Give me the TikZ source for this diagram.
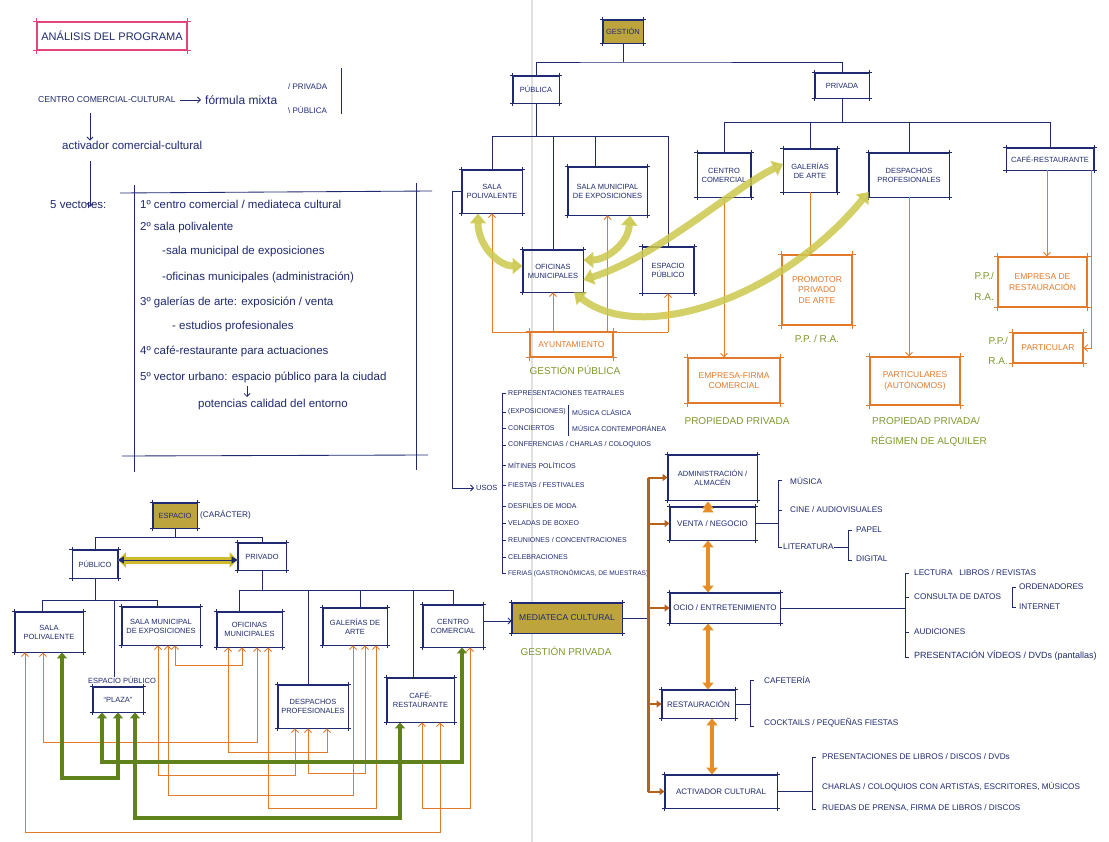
\documentclass[tikz,border=0pt]{standalone}
\usepackage{fontspec}
\setmainfont{Liberation Sans}
\usetikzlibrary{arrows.meta}
\definecolor{ink}{HTML}{1F2A70}
\definecolor{org}{HTML}{E27A2C}
\definecolor{brn}{HTML}{B5621C}
\definecolor{grn}{HTML}{7E9A2E}
\definecolor{olv}{HTML}{BDA43C}
\definecolor{lolv}{HTML}{CCC84E}
\definecolor{dgrn}{HTML}{5F821D}
\definecolor{pnk}{HTML}{E2467C}
\begin{document}
\begin{tikzpicture}[x=1pt,y=-1pt,
  skc/.style={append after command={
    (\tikzlastnode.north west) edge[draw=#1,line width=0.9pt,shorten <=-3pt,shorten >=-3pt] (\tikzlastnode.north east)
    (\tikzlastnode.south west) edge[draw=#1,line width=0.9pt,shorten <=-3pt,shorten >=-3pt] (\tikzlastnode.south east)
    (\tikzlastnode.north west) edge[draw=#1,line width=0.9pt,shorten <=-3pt,shorten >=-3pt] (\tikzlastnode.south west)
    (\tikzlastnode.north east) edge[draw=#1,line width=0.9pt,shorten <=-3pt,shorten >=-3pt] (\tikzlastnode.south east)}},
  bx/.style={draw=ink,line width=0.9pt,text=ink,align=center,inner sep=1pt,font=\fontsize{7.5}{9}\selectfont,skc=ink},
  obx/.style={draw=org,line width=1.1pt,text=org,align=center,inner sep=1pt,font=\fontsize{8.5}{10.5}\selectfont,skc=org},
  fbx/.style={bx,fill=olv},
  rbx/.style={bx,font=\fontsize{8}{9.5}\selectfont},
  lbl/.style={text=ink,anchor=west,inner sep=0pt,font=\fontsize{8.2}{9}\selectfont},
  ulbl/.style={lbl,font=\fontsize{7}{8}\selectfont},
  hw/.style={text=ink,anchor=west,inner sep=0pt,font=\fontsize{11.5}{12}\selectfont},
  gtx/.style={text=grn,inner sep=0pt,font=\fontsize{10}{11}\selectfont},
  ln/.style={draw=ink,line width=0.85pt},
  narr/.style={ln,-{Straight Barb[length=3pt,width=6pt]}},
  oln/.style={draw=org,line width=0.9pt},
  oarr/.style={oln,{Straight Barb[length=3.5pt,width=7pt]}-{Straight Barb[length=3.5pt,width=7pt]}},
  oup/.style={oln,-{Straight Barb[length=3.5pt,width=7pt]}},
  garr/.style={draw=dgrn,line width=3.8pt,{Triangle[length=6pt,width=10pt]}-{Triangle[length=6pt,width=10pt]}},
  yarr/.style={draw=lolv,line width=7pt,opacity=0.85,{Triangle[length=10pt,width=16pt]}-{Triangle[length=10pt,width=16pt]}},
  odd/.style={draw=org!85!yellow,line width=3.8pt,{Triangle[length=7pt,width=11pt]}-{Triangle[length=7pt,width=11pt]}},
  brl/.style={draw=brn,line width=3pt},
  barr/.style={draw=brn,line width=2pt,-{Triangle[length=5pt,width=7pt]}},
]
\useasboundingbox (0,0) rectangle (1109,842);
\fill[white] (0,0) rectangle (1109,842);
\draw[black!12,line width=1.2pt] (532,0) -- (532,842);

% ---------------- top-left
\node[draw=pnk,line width=1.1pt,text=ink,minimum width=150,minimum height=28,font=\fontsize{11}{12}\selectfont,skc=pnk] (ttl) at (112,36) {ANÁLISIS DEL PROGRAMA};
\node[lbl,font=\fontsize{8.6}{9}\selectfont] (cc) at (38,100) {CENTRO COMERCIAL-CULTURAL};
\node[hw,font=\fontsize{12}{13}\selectfont] (fm) at (205,100) {fórmula mixta};
\draw[narr] ([xshift=4]cc.east) -- ([xshift=-4]fm.west);
\node[lbl,font=\fontsize{8}{9}\selectfont] (fpr) at (288,87) {/ PRIVADA};
\node[lbl,font=\fontsize{8}{9}\selectfont] (fpu) at (288,110) {\textbackslash\ PÚBLICA};
\draw[ln] (341,68) -- (341,114);
\node[hw] (act) at (62,145) {activador comercial-cultural};
\node[hw] (vec) at (50,205) {5 vectores:};
\draw[narr] (cc.south -| 90,0) ++(0,10) -- (act.north -| 90,0);
\draw[narr] (act.south -| 90,0) ++(0,12) -- ([yshift=-6]vec.north -| 90,0);

\draw[ln] (120,193) -- (432,191);
\draw[ln] (122,456) -- (428,455);
\draw[ln] (134,185) -- (134,472);
\draw[ln] (416,183) -- (416,470);
\node[hw] at (140,204) {1º centro comercial / mediateca cultural};
\node[hw] at (140,228) {2º sala polivalente};
\node[hw] at (162,252) {-sala municipal de exposiciones};
\node[hw] at (162,277) {-oficinas municipales (administración)};
\node[hw] at (140,302) {3º galerías de arte: exposición / venta};
\node[hw] at (172,327) {- estudios profesionales};
\node[hw] at (140,351) {4º café-restaurante para actuaciones};
\node[hw] (v5) at (140,377) {5º vector urbano: espacio público para la ciudad};
\node[hw] (pot) at (198,405) {potencias calidad del entorno};
\draw[narr] (247,386) -- (247,397);

% ---------------- top tree
\node[fbx,minimum width=40,minimum height=23] (gest) at (623,31.5) {GESTIÓN};
\node[bx,minimum width=46,minimum height=27] (pub) at (536,89.5) {PÚBLICA};
\node[bx,minimum width=54,minimum height=25] (priv) at (842,85.5) {PRIVADA};
\node[bx,minimum width=60,minimum height=43] (tSP) at (492,191.5) {SALA\\POLIVALENTE};
\node[bx,minimum width=79,minimum height=48] (tSM) at (607.5,191) {SALA MUNICIPAL\\DE EXPOSICIONES};
\node[bx,minimum width=60,minimum height=42] (tOF) at (553,271) {OFICINAS\\MUNICIPALES};
\node[bx,minimum width=51,minimum height=46] (tEP) at (668,270) {ESPACIO\\PÚBLICO};
\node[obx,minimum width=83,minimum height=25] (tAY) at (571.5,344.5) {AYUNTAMIENTO};
\node[bx,minimum width=53,minimum height=44] (tCC) at (724,175) {CENTRO\\COMERCIAL};
\node[bx,minimum width=53,minimum height=43] (tGA) at (810,170.5) {GALERÍAS\\DE ARTE};
\node[bx,minimum width=80,minimum height=44] (tDP) at (909,175) {DESPACHOS\\PROFESIONALES};
\node[bx,minimum width=87,minimum height=22] (tCR) at (1050,159) {CAFÉ-RESTAURANTE};
\node[obx,minimum width=92,minimum height=45] (tEF) at (734,380.5) {EMPRESA-FIRMA\\COMERCIAL};
\node[obx,minimum width=70,minimum height=70] (tPR) at (817,290) {PROMOTOR\\PRIVADO\\DE ARTE};
\node[obx,minimum width=90,minimum height=48] (tPA) at (915,381) {PARTICULARES\\(AUTÓNOMOS)};
\node[obx,minimum width=89,minimum height=50] (tER) at (1042.5,282) {EMPRESA DE\\RESTAURACIÓN};
\node[obx,minimum width=70,minimum height=30] (tPT) at (1048,348) {PARTICULAR};

\draw[ln] (gest.south) -- (gest.south |- 0,62);
\draw[ln] (pub.north) |- (gest.south |- 0,62) -| (priv.north);
\draw[ln] (pub.south) -- (pub.south |- 0,136);
\draw[ln] (tSP.north) |- (tEP.north |- 0,136) -- (tEP.north);
\draw[ln] (tOF.north) -- (tOF.north |- 0,136);
\draw[ln] (tSM.north -| 595,0) -- (595,136);
\draw[ln] (priv.south) -- (priv.south |- 0,122);
\draw[ln] (tCC.north) |- (tCR.north |- 0,122) -- (tCR.north);
\draw[ln] (tGA.north) -- (tGA.north |- 0,122);
\draw[ln] (tDP.north) -- (tDP.north |- 0,122);

\draw[oln] (tSP.south |- 0,332) -- (tEP.south |- 0,332);
\draw[oup] (tSP.south |- 0,332) -- (tSP.south);
\draw[oup] (tOF.south |- 0,332) -- (tOF.south);
\draw[oup] (tSM.south |- 0,332) -- (tSM.south);
\draw[oup] (tEP.south |- 0,332) -- (tEP.south);
\draw[oup] (tCC.south) -- (tCC.south |- tEF.north);
\draw[oup] (tGA.south) -- (tGA.south |- tPR.north);
\draw[oup] (tDP.south) -- (tDP.south |- tPA.north);
\draw[oup] (tCR.south -| 1047,0) -- (tER.north -| 1047,0);
\draw[oup] (tCR.south -| 1091,0) |- (tPT.east);

\node[gtx] at (575,370) {GESTIÓN PÚBLICA};
\node[gtx] at (737,421) {PROPIEDAD PRIVADA};
\node[gtx] at (817,339) {P.P. / R.A.};
\node[gtx] at (926,421) {PROPIEDAD PRIVADA/};
\node[gtx] at (929,441) {RÉGIMEN DE ALQUILER};
\node[gtx,anchor=east] at (994,276) {P.P./};
\node[gtx,anchor=east] at (994,297) {R.A.};
\node[gtx,anchor=east] at (1008,341) {P.P./};
\node[gtx,anchor=east] at (1008,361) {R.A.};

\draw[yarr] (tSP.south -| 478,0) .. controls (478,245) and (498,266) .. (tOF.west |- 0,266);
\draw[yarr] (tSM.south -| 630,0) .. controls (628,245) and (605,260) .. (tOF.east |- 0,260);
\draw[yarr] (tOF.east |- 0,280) .. controls (660,255) and (730,190) .. (tGA.west |- 0,164);
\draw[yarr] (tOF.south -| 574,0) .. controls (640,345) and (780,300) .. (tDP.west |- 0,192);

% ---------------- usos
\node[lbl,font=\fontsize{7.5}{8}\selectfont] (usos) at (476,488) {USOS};
\draw[narr] (tSP.west) -- (452,191.5) -- (452,488) -- ([xshift=-2]usos.west);
\draw[ln] (502,393) -- (502,573);
\foreach \yy in {393,412,428,445,465,485,506,523,540,557,573} {\draw[ln] (502,\yy) -- (506,\yy);}
\node[ulbl] at (508,393) {REPRESENTACIONES TEATRALES};
\node[ulbl] at (508,412) {(EXPOSICIONES)};
\node[ulbl] at (508,428) {CONCIERTOS};
\draw[ln] (568,405) -- (568,436);
\node[ulbl] at (572,412) {MÚSICA CLÁSICA};
\node[ulbl] at (572,428) {MÚSICA CONTEMPORÁNEA};
\node[ulbl] at (508,445) {CONFERENCIAS / CHARLAS / COLOQUIOS};
\node[ulbl] at (508,465) {MÍTINES POLÍTICOS};
\node[ulbl] at (508,485) {FIESTAS / FESTIVALES};
\node[ulbl] at (508,506) {DESFILES DE MODA};
\node[ulbl] at (508,523) {VELADAS DE BOXEO};
\node[ulbl] at (508,540) {REUNIONES / CONCENTRACIONES};
\node[ulbl] at (508,557) {CELEBRACIONES};
\node[ulbl,font=\fontsize{6.6}{7}\selectfont] at (508,573) {FERIAS (GASTRONÓMICAS, DE MUESTRAS)};

% ---------------- bottom-left tree
\node[fbx,minimum width=44,minimum height=25] (bES) at (175,515.5) {ESPACIO};
\node[lbl] (car) at (200,515) {(CARÁCTER)};
\node[bx,minimum width=45,minimum height=28] (bPU) at (95,564) {PÚBLICO};
\node[bx,minimum width=48,minimum height=27] (bPV) at (262,556.5) {PRIVADO};
\node[bx,minimum width=68,minimum height=40] (bSP) at (49,632) {SALA\\POLIVALENTE};
\node[bx,minimum width=78,minimum height=38] (bSM) at (161,626) {SALA MUNICIPAL\\DE EXPOSICIONES};
\node[lbl,font=\fontsize{7.5}{8}\selectfont] (plL) at (88,680) {ESPACIO PÚBLICO};
\node[bx,minimum width=50,minimum height=25] (bPL) at (118,699.5) {“PLAZA”};
\node[bx,minimum width=65,minimum height=35] (bOF) at (249.5,629.5) {OFICINAS\\MUNICIPALES};
\node[bx,minimum width=64,minimum height=37] (bGA) at (355,626.5) {GALERÍAS DE\\ARTE};
\node[bx,minimum width=60,minimum height=42] (bCC) at (453,626) {CENTRO\\COMERCIAL};
\node[bx,minimum width=70,minimum height=43] (bDP) at (313,706.5) {DESPACHOS\\PROFESIONALES};
\node[bx,minimum width=67,minimum height=44] (bCF) at (420.5,700) {CAFÉ-\\RESTAURANTE};

\draw[ln] (bES.south) -- (bES.south |- 0,537);
\draw[ln] (bPU.north) |- (bPV.north |- 0,537) -- (bPV.north);
\draw[ln] (bPU.south) -- (bPU.south |- 0,600);
\draw[ln] (bSP.north -| 42,0) |- (157,600) -- (bSM.north -| 157,0);
\draw[ln] (114,600) -- (plL.north -| 114,0);
\draw[ln] (bPV.south) -- (bPV.south |- 0,590);
\draw[ln] (bOF.north -| 239,0) |- (453,590) -- (bCC.north);
\draw[ln] (308,590) -- (bDP.north -| 308,0);
\draw[ln] (360,590) -- (bGA.north -| 360,0);
\draw[ln] (413,590) -- (bCF.north -| 413,0);

\draw[draw=olv!75!yellow,line width=7pt,{Triangle[length=8pt,width=15pt]}-{Triangle[length=8pt,width=15pt]}] (bPU.east |- 0,560) -- (bPV.west |- 0,560);
\draw[ln,{Triangle[length=6pt,width=7pt]}-{Triangle[length=6pt,width=7pt]}] (bPU.east |- 0,560) -- (bPV.west |- 0,560);

\draw[oarr] (bSP.south -| 25,0) |- (440,832) -- (bCF.south -| 440,0);
\draw[oarr] (bSP.south -| 43,0) |- (257,742) -- (bOF.south -| 257,0);
\draw[oarr] (bSM.south -| 175,0) |- (242,665) -- (bOF.south -| 242,0);
\draw[oarr] (bSM.south -| 158,0) |- (295,775) -- (bDP.south -| 295,0);
\draw[oarr] (bSM.south -| 168,0) |- (353,795) -- (bGA.south -| 353,0);
\draw[oarr] (bOF.south -| 228,0) |- (327,752) -- (bDP.south -| 327,0);
\draw[oarr] (bOF.south -| 268,0) |- (376,808) -- (bGA.south -| 376,0);
\draw[oarr] (bDP.south -| 308,0) |- (365,773) -- (bGA.south -| 365,0);
\draw[oarr] (bCF.south -| 422,0) |- (470,808) -- (bCC.south -| 470,0);

\draw[garr] (bSP.south -| 62,0) |- (118,778) -- (bPL.south -| 118,0);
\draw[garr] (bPL.south -| 102,0) |- (462,762) -- (bCC.south -| 462,0);
\draw[garr] (bPL.south -| 135,0) |- (400,818) -- (bCF.south -| 400,0);

% ---------------- mediateca
\node[fbx,minimum width=110,minimum height=30,font=\fontsize{8.5}{9}\selectfont] (rMed) at (567,618) {MEDIATECA CULTURAL};
\node[gtx] at (566,651) {GESTIÓN PRIVADA};
\draw[narr] (bCC.east |- 0,621) -- (rMed.west |- 0,621);

\node[rbx,font=\fontsize{7.5}{9}\selectfont,minimum width=89,minimum height=45] (rAD) at (712.5,477.5) {ADMINISTRACIÓN /\\ALMACÉN};
\node[rbx,minimum width=85,minimum height=33] (rVE) at (712.5,523.5) {VENTA / NEGOCIO};
\node[rbx,minimum width=110,minimum height=30] (rOC) at (725,608) {OCIO / ENTRETENIMIENTO};
\node[rbx,minimum width=73,minimum height=28] (rRE) at (698.5,704) {RESTAURACIÓN};
\node[rbx,minimum width=112,minimum height=33] (rAC) at (721,791.5) {ACTIVADOR CULTURAL};

\draw[ln] (rMed.east) -- (rMed.east -| 648,0);
\draw[brl] (rAD.west -| 648,0) -- (rAC.west -| 648,0);
\draw[barr] (rAD.west -| 648,0) -- (rAD.west);
\draw[barr] (rVE.west -| 648,0) -- (rVE.west);
\draw[barr] (rOC.west -| 648,0) -- (rOC.west);
\draw[barr] (rRE.west -| 648,0) -- (rRE.west);
\draw[barr] (rAC.west -| 648,0) -- (rAC.west);

\draw[odd] ([yshift=-5]rAD.south -| 708,0) -- ([yshift=5]rVE.north -| 708,0);
\draw[odd] (rVE.south -| 708,0) -- (rOC.north -| 708,0);
\draw[odd] (rOC.south -| 708,0) -- (rRE.north -| 708,0);
\draw[odd] (rRE.south -| 712,0) -- (rAC.north -| 712,0);

% venta list
\draw[ln] (rVE.east) -- (rVE.east -| 778,0);
\draw[ln] (782,480) -- (778,480) -- (778,547) -- (782,547);
\draw[ln] (778,510) -- (782,510);
\node[lbl] at (790,481) {MÚSICA};
\node[lbl] at (790,510) {CINE / AUDIOVISUALES};
\node[lbl] (lit) at (783,547) {LITERATURA};
\draw[ln] (lit.east) -- (848,547);
\draw[ln] (852,530) -- (848,530) -- (848,560) -- (852,560);
\node[lbl] at (856,530) {PAPEL};
\node[lbl] at (856,559) {DIGITAL};

% ocio list
\draw[ln] (rOC.east) -- (rOC.east -| 905,0);
\draw[ln] (909,573) -- (905,573) -- (905,657) -- (909,657);
\draw[ln] (905,597) -- (909,597);
\draw[ln] (905,632) -- (909,632);
\node[lbl] at (914,573) {LECTURA \ \ LIBROS / REVISTAS};
\node[lbl] (cdd) at (914,597) {CONSULTA DE DATOS};
\draw[ln] (1016,587) -- (1012,587) -- (1012,607) -- (1016,607);
\node[lbl] at (1019,587) {ORDENADORES};
\node[lbl] at (1019,607) {INTERNET};
\node[lbl] at (914,632) {AUDICIONES};
\node[lbl,font=\fontsize{9}{10}\selectfont] at (914,656) {PRESENTACIÓN VÍDEOS / DVDs (pantallas)};

% restauracion list
\draw[ln] (rRE.east) -- (rRE.east -| 750,0);
\draw[ln] (754,680) -- (750,680) -- (750,726) -- (754,726);
\node[lbl] at (764,680) {CAFETERÍA};
\node[lbl] at (764,723) {COCKTAILS / PEQUEÑAS FIESTAS};

% activador list
\draw[ln] (rAC.east) -- (rAC.east -| 812,0);
\draw[ln] (816,757) -- (812,757) -- (812,809) -- (816,809);
\node[lbl] at (822,757) {PRESENTACIONES DE LIBROS / DISCOS / DVDs};
\node[lbl] at (822,787) {CHARLAS / COLOQUIOS CON ARTISTAS, ESCRITORES, MÚSICOS};
\node[lbl] at (822,808) {RUEDAS DE PRENSA, FIRMA DE LIBROS / DISCOS};
\end{tikzpicture}
\end{document}
